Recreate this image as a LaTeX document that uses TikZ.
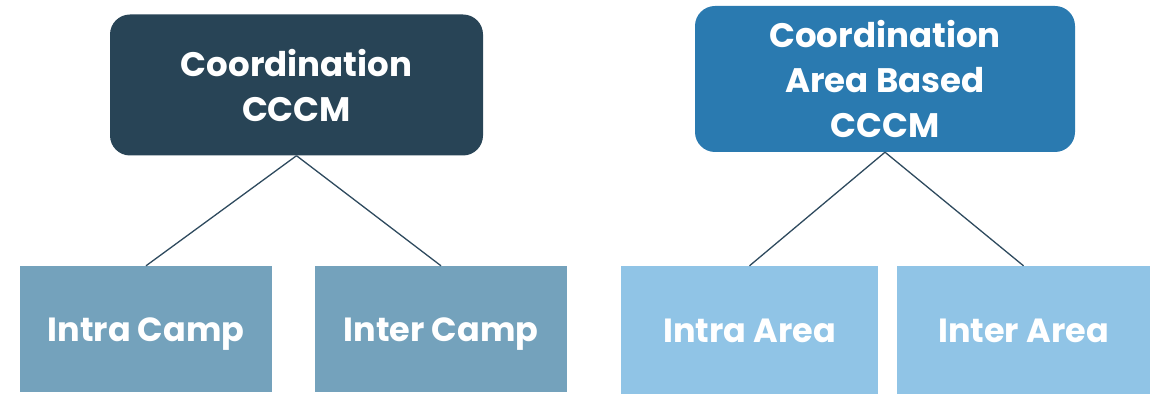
\documentclass[tikz,border=0pt]{standalone}
\usepackage{fontspec}
\setmainfont{Poppins}[UprightFont=* Bold,BoldFont=* Bold]
\definecolor{topdark}{HTML}{284456}
\definecolor{topblue}{HTML}{2A7AB0}
\definecolor{camp}{HTML}{74A2BC}
\definecolor{area}{HTML}{90C4E6}
\definecolor{linkc}{HTML}{2E4A5E}
\tikzset{
  headbox/.style={rounded corners=20pt, inner sep=0pt, align=center, text=white,
    font=\fontsize{34}{45}\selectfont},
  leafbox/.style={inner sep=0pt, align=center, text=white, text height=24pt, text depth=0pt,
    font=\fontsize{33.5}{40}\selectfont},
  link/.style={draw=linkc, line width=1.3pt}
}
\begin{document}
\begin{tikzpicture}[x=1pt,y=-1pt]
\useasboundingbox (0,0) rectangle (1150,395);
\node[headbox, fill=topdark, minimum width=373pt, minimum height=141pt] (c1) at (296.5,85) {Coordination\\CCCM};
\node[headbox, fill=topblue, minimum width=380pt, minimum height=146pt] (c2) at (885,79) {Coordination\\Area Based\\CCCM};
\node[leafbox, fill=camp, minimum width=252pt, minimum height=126pt] (l1) at (146,329) {Intra Camp};
\node[leafbox, fill=camp, minimum width=252pt, minimum height=126pt] (l2) at (441,329) {Inter Camp};
\node[leafbox, fill=area, minimum width=257pt, minimum height=128pt] (r1) at (749.5,330) {Intra Area};
\node[leafbox, fill=area, minimum width=253pt, minimum height=128pt] (r2) at (1023.5,330) {Inter Area};
\draw[link] (c1.south) -- (l1.north);
\draw[link] (c1.south) -- (l2.north);
\draw[link] (c2.south) -- (r1.north);
\draw[link] (c2.south) -- (r2.north);
\end{tikzpicture}
\end{document}
